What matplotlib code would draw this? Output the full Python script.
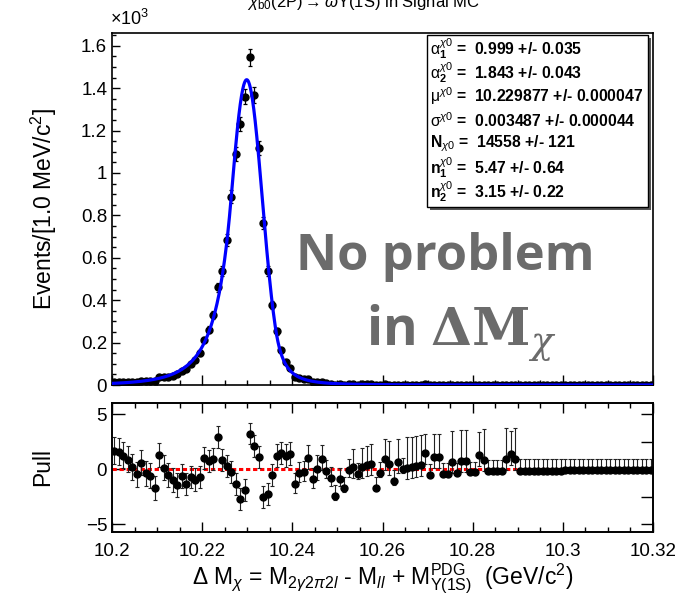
import numpy as np
import matplotlib
matplotlib.use("Agg")
import matplotlib.pyplot as plt
from matplotlib.patches import Rectangle
from matplotlib.ticker import MultipleLocator

plt.rcParams["font.family"] = ["Liberation Sans", "DejaVu Sans"]
plt.rcParams["mathtext.fontset"] = "custom"
plt.rcParams["mathtext.rm"] = "Liberation Sans"
plt.rcParams["mathtext.it"] = "Liberation Sans:italic"
plt.rcParams["mathtext.bf"] = "Liberation Sans:bold"

# histogram definition: 1 MeV bins between 10.20 and 10.32 GeV
x_lo, x_hi = 10.20, 10.32
bin_width = 0.001

# events per bin
counts = [
    13, 14, 14, 15, 14, 13, 20, 18, 20, 18,
    39, 38, 40, 44, 50, 67, 76, 98, 118, 151,
    213, 260, 329, 460, 537, 684, 888, 1088, 1231, 1360,
    1546, 1368, 1118, 763, 538, 377, 254, 164, 108, 79,
    39, 34, 26, 26, 13, 14, 15, 9, 5, 1,
    3, 1, 4, 4, 2, 3, 3, 3, 0, 1,
    3, 2, 1, 2, 1, 1, 1, 1, 1, 3,
    0, 2, 2, 0, 0, 1, 0, 1, 1, 0,
    0, 2, 1, 0, 0, 0, 0, 1, 2, 1,
    0, 0, 0, 0, 0, 0, 0, 0, 0, 0,
    0, 0, 0, 0, 0, 0, 0, 0, 0, 0,
    0, 0, 0, 0, 0, 0, 0, 0, 0, 0,
]

# pull per bin and its asymmetric error bars
pulls = [
    1.65, 1.57, 1.24, 0.88, 0.18, -0.48, 0.58, -0.39, -0.60, -1.74,
    1.27, 0.12, -0.54, -1.02, -1.44, -0.66, -1.38, -0.72, -0.96, -0.72,
    1.03, 0.79, 0.90, 2.93, 0.88, 0.33, -0.24, -1.38, -2.74, -1.92,
    3.25, 2.08, 1.08, -2.53, -2.23, -0.54, 1.24, 1.45, 1.21, 1.39,
    -1.32, -0.33, -0.24, 1.03, -0.93, 0.06, 0.97, -0.12, -0.84, -2.44,
    -0.93, -1.68, -0.06, 0.21, -0.42, 0.18, 0.36, 0.51, -1.68, -0.33,
    0.94, 0.48, -1.11, 0.67, 0.00, 0.12, 0.18, 0.27, 0.36, 1.45,
    -0.54, 1.12, 1.12, -0.42, -0.42, 0.67, -0.39, 0.79, 0.79, -0.30,
    -0.30, 1.33, 0.88, -0.18, -0.18, -0.18, -0.18, 0.97, 1.39, 0.97,
    -0.12, -0.12, -0.12, -0.12, -0.12, -0.12, -0.12, -0.12, -0.12, -0.12,
    -0.11, -0.11, -0.11, -0.11, -0.11, -0.11, -0.11, -0.11, -0.11, -0.11,
    -0.10, -0.10, -0.10, -0.10, -0.10, -0.10, -0.10, -0.10, -0.10, -0.10,
]
pull_err_hi = [
    1.25, 1.25, 1.25, 1.25, 1.20, 1.15, 1.20, 1.15, 1.15, 1.15,
    1.15, 1.15, 1.10, 1.10, 1.10, 1.10, 1.05, 1.05, 1.05, 1.05,
    1.00, 1.00, 1.00, 1.00, 1.00, 1.00, 1.00, 1.00, 1.00, 1.00,
    1.00, 1.00, 1.00, 1.00, 1.00, 1.00, 1.05, 1.05, 1.10, 1.10,
    1.00, 1.00, 1.00, 1.20, 1.00, 1.27, 1.27, 1.00, 1.00, 1.00,
    1.00, 1.00, 1.00, 1.60, 1.00, 1.79, 1.79, 1.79, 1.00, 1.00,
    1.79, 2.05, 1.00, 2.05, 1.00, 2.78, 2.78, 2.78, 2.78, 1.79,
    1.00, 2.05, 2.05, 1.00, 1.00, 2.78, 1.00, 2.78, 2.78, 1.00,
    1.00, 2.05, 2.78, 1.00, 1.00, 1.00, 1.00, 2.78, 2.05, 2.78,
    1.05, 1.05, 1.05, 1.05, 1.05, 1.05, 1.05, 1.05, 1.05, 1.05,
    1.05, 1.05, 1.05, 1.05, 1.05, 1.05, 1.05, 1.05, 1.05, 1.05,
    1.05, 1.05, 1.05, 1.05, 1.05, 1.05, 1.05, 1.05, 1.05, 1.05,
]
pull_err_lo = [
    1.15, 1.15, 1.15, 1.15, 1.15, 1.10, 1.15, 1.10, 1.10, 1.10,
    1.10, 1.10, 1.05, 1.05, 1.05, 1.05, 1.00, 1.00, 1.00, 1.00,
    1.00, 1.00, 1.00, 1.00, 1.00, 1.00, 1.00, 1.00, 1.00, 1.00,
    1.00, 1.00, 1.00, 1.00, 1.00, 1.00, 1.00, 1.00, 1.00, 1.00,
    0.85, 0.85, 0.83, 1.00, 0.77, 1.00, 1.00, 0.72, 0.65, 0.36,
    0.56, 0.36, 0.62, 1.00, 0.49, 1.00, 1.00, 1.00, 0.00, 0.36,
    1.00, 1.00, 0.36, 1.00, 0.36, 1.00, 1.00, 1.00, 1.00, 1.00,
    0.00, 1.00, 1.00, 0.00, 0.00, 1.00, 0.00, 1.00, 1.00, 0.00,
    0.00, 1.00, 1.00, 0.00, 0.00, 0.00, 0.00, 1.00, 1.00, 1.00,
    0.00, 0.00, 0.00, 0.00, 0.00, 0.00, 0.00, 0.00, 0.00, 0.00,
    0.00, 0.00, 0.00, 0.00, 0.00, 0.00, 0.00, 0.00, 0.00, 0.00,
    0.00, 0.00, 0.00, 0.00, 0.00, 0.00, 0.00, 0.00, 0.00, 0.00,
]

# double-sided Crystal Ball fit result
fit_labels = [
    r"$\mathrm{\alpha}^{\chi0}_{\mathbf{1}}$", r"$\mathrm{\alpha}^{\chi0}_{\mathbf{2}}$",
    r"$\mathrm{\mu}^{\chi0}$", r"$\mathrm{\sigma}^{\chi0}$",
    r"$\mathbf{N}_{\chi0}$", r"$\mathbf{n}^{\chi0}_{\mathbf{1}}$",
    r"$\mathbf{n}^{\chi0}_{\mathbf{2}}$",
]
fit_values = ["0.999", "1.843", "10.229877", "0.003487", "14558", "5.47", "3.15"]
fit_errors = ["0.035", "0.043", "0.000047", "0.000044", "121", "0.64", "0.22"]
alpha1, alpha2 = 0.999, 1.843
mu, sigma = 10.229877, 0.003487
n_sig = 14558
n1, n2 = 5.47, 3.15

W, H = 690, 597


def fx(px):
    return px / W


def fy(py):
    return 1 - py / H


def dscb(x):
    t = (x - mu) / sigma
    out = np.exp(-0.5 * t ** 2)
    left = t < -alpha1
    u = -t[left] - alpha1
    out[left] = np.exp(-0.5 * alpha1 ** 2) * (1 + alpha1 * u / n1) ** (-n1)
    right = t > alpha2
    u = t[right] - alpha2
    out[right] = np.exp(-0.5 * alpha2 ** 2) * (1 + alpha2 * u / n2) ** (-n2)
    return out


counts = np.array(counts, dtype=float)
centers = x_lo + bin_width * (np.arange(len(counts)) + 0.5)

xs = np.linspace(x_lo, x_hi, 2000)
shape = dscb(xs)
curve = n_sig * bin_width * shape / np.trapezoid(shape, xs)

fig = plt.figure(figsize=(W / 100, H / 100), dpi=100)
ax = fig.add_axes([fx(112), fy(385), fx(653) - fx(112), fy(33) - fy(385)])
axp = fig.add_axes([fx(112), fy(532), fx(653) - fx(112), fy(403) - fy(532)])

# --- upper panel ---
ax.errorbar(centers, counts / 1e3, yerr=np.sqrt(counts) / 1e3, fmt="o",
            color="black", ms=5, elinewidth=0.9, capsize=1.5, capthick=0.9, zorder=3)
ax.plot(xs, curve / 1e3, color="#0000ff", lw=2.3, zorder=4)
ax.set_xlim(x_lo, x_hi)
ax.set_ylim(0, 1.66)
ax.xaxis.set_major_locator(MultipleLocator(0.02))
ax.xaxis.set_minor_locator(MultipleLocator(0.005))
ax.yaxis.set_major_locator(MultipleLocator(0.2))
ax.yaxis.set_minor_locator(MultipleLocator(0.05))
ax.set_yticks([0, 0.2, 0.4, 0.6, 0.8, 1.0, 1.2, 1.4, 1.6])
ax.set_yticklabels(["0", "0.2", "0.4", "0.6", "0.8", "1", "1.2", "1.4", "1.6"])
ax.tick_params(axis="both", which="both", direction="in", labelsize=13.5, width=1)
ax.tick_params(axis="x", labelbottom=False)
ax.tick_params(axis="y", which="major", length=6)
ax.tick_params(axis="y", which="minor", length=3)
ax.tick_params(axis="x", which="major", length=7)
ax.tick_params(axis="x", which="minor", length=3.5)
for s in ax.spines.values():
    s.set_linewidth(1.2)

# --- pull panel ---
axp.axhline(0, color="red", lw=2.2, ls=(0, (1.4, 0.9)), zorder=2)
axp.errorbar(centers, pulls, yerr=[pull_err_lo, pull_err_hi], fmt="o", color="black",
             ecolor="#222222", ms=5, elinewidth=0.8, capsize=1.5, capthick=0.8, zorder=3)
axp.set_xlim(x_lo, x_hi)
axp.set_ylim(-5.72, 6.03)
axp.xaxis.set_major_locator(MultipleLocator(0.02))
axp.xaxis.set_minor_locator(MultipleLocator(0.005))
axp.set_xticks([10.2, 10.22, 10.24, 10.26, 10.28, 10.3, 10.32])
axp.set_xticklabels(["10.2", "10.22", "10.24", "10.26", "10.28", "10.3", "10.32"])
axp.set_yticks([-5, 0, 5])
axp.set_yticklabels(["\u22125", "0", "5"])
axp.tick_params(axis="both", which="both", direction="in", labelsize=13.5, width=1,
                top=True)
axp.tick_params(axis="x", which="major", length=7, pad=8)
axp.tick_params(axis="x", which="minor", length=3.5)
axp.tick_params(axis="y", which="major", length=9)
axr = axp.twinx()
axr.set_ylim(axp.get_ylim())
axr.set_yticks([-5, -2.5, 0, 2.5, 5])
axr.tick_params(axis="y", direction="in", length=9, width=1, labelright=False)
for s in list(axp.spines.values()) + list(axr.spines.values()):
    s.set_linewidth(1.2)

# --- labels ---
fig.text(fx(44), fy(209), r"Events/[1.0 MeV/c$^{2}$]", rotation=90,
         ha="center", va="center", fontsize=16.5)
fig.text(fx(43), fy(467), "Pull", rotation=90, ha="center", va="center", fontsize=16.5)
fig.text(fx(110), fy(19), r"$\times$10$^{3}$", ha="left", va="center", fontsize=13)
fig.text(fx(383), fy(579),
         r"$\Delta$ M$_{\chi}$ = M$_{2\gamma2\pi2\mathit{l}}$ - M$_{\mathit{ll}}$ + "
         r"M$^{\rm PDG}_{\Upsilon(\rm 1S)}$  (GeV/c$^{2}$)",
         ha="center", va="center", fontsize=16.5)
fig.text(fx(363), fy(7.5),
         r"$\chi_{\rm b0}$(2P)$\rightarrow\omega\Upsilon$(1S) in Signal MC",
         ha="center", va="baseline", fontsize=12)

# --- fit parameter box ---
fig.add_artist(Rectangle((fx(430), fy(210)), fx(651) - fx(430), fy(38) - fy(210),
                         transform=fig.transFigure, facecolor="#555555",
                         edgecolor="none", zorder=5))
fig.add_artist(Rectangle((fx(427), fy(207)), fx(648) - fx(427), fy(35) - fy(207),
                         transform=fig.transFigure, facecolor="white",
                         edgecolor="black", lw=1.0, zorder=6))
line_y = [48.5, 72.5, 96.5, 120.5, 144, 168, 192]
for lab, val, err, py in zip(fit_labels, fit_values, fit_errors, line_y):
    fig.text(fx(430), fy(py), f"{lab} =  {val} +/- {err}", ha="left", va="center",
             fontsize=11.3, fontweight="bold", zorder=7)

# --- annotation ---
ax.text(0.616, 0.364, "No problem", transform=ax.transAxes, ha="center", va="center",
        fontsize=36.5, fontweight="bold", color="#6b6b6b", family="Open Sans", zorder=6)
ax.text(0.645, 0.114, r"in $\mathbf{\Delta M}_{\chi}$", transform=ax.transAxes,
        ha="center", va="baseline", fontsize=38, fontweight="bold", color="#6b6b6b",
        family="Open Sans", math_fontfamily="dejavuserif", zorder=6)

fig.savefig("out.png", dpi=100)
